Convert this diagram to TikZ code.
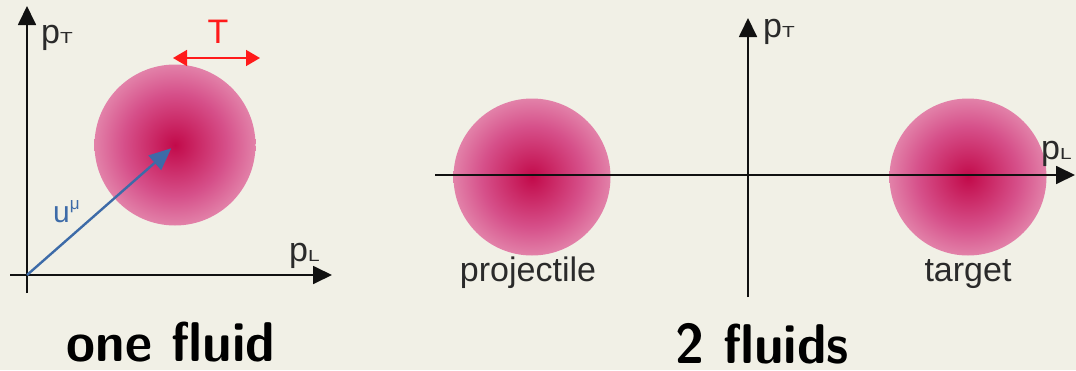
\documentclass[tikz,border=0pt]{standalone}
\usepackage{fontspec}
\setmainfont{Liberation Sans}
\usetikzlibrary{arrows.meta}
\definecolor{bg}{HTML}{F1F0E6}
\definecolor{blobin}{HTML}{C20A4A}
\definecolor{blobmid}{HTML}{D6508A}
\definecolor{blobout}{HTML}{EDADC4}
\definecolor{axiscol}{HTML}{111111}
\definecolor{labcol}{HTML}{2A2A2A}
\definecolor{ublue}{HTML}{3D6BA8}
\definecolor{tred}{HTML}{FF1A1A}
\pgfdeclareradialshading{blobshade}{\pgfpoint{0bp}{0bp}}{color(0bp)=(blobin); color(16bp)=(blobmid); color(33bp)=(blobout); color(50bp)=(blobout)}
\newcommand{\mysub}[1]{\scalebox{1.3}[1]{\fontsize{16}{16}\selectfont #1}}
\tikzset{
  blob/.style={circle, draw=none, minimum size=#1, inner sep=0pt},
  blobfill/.style={shading=blobshade, draw=none},
  axis/.style={draw=axiscol, line width=1.8pt, -{Triangle[length=19pt,width=18pt]}},
  lab/.style={text=labcol, font=\fontsize{34}{36}\selectfont, inner sep=0pt},
  title/.style={text=black, font=\sffamily\bfseries\fontsize{56}{58}\selectfont, inner sep=0pt, xscale=0.94},
  uarrow/.style={draw=ublue, line width=2.4pt, -{Triangle[length=22pt,width=19pt]}},
  tarrow/.style={draw=tred, line width=1.6pt, {Triangle[length=14pt,width=16pt]}-{Triangle[length=14pt,width=16pt]}},
}
\begin{document}
\begin{tikzpicture}[x=1pt,y=-1pt]
\fill[bg] (0,0) rectangle (1076,370);
\useasboundingbox (0,0) rectangle (1076,370);
% ---------- one fluid ----------
\node[blob=161pt] (c1) at (175,145) {};
\path[blobfill] (c1.center) circle[radius=80.5pt];
\coordinate (o1) at (27,275);
\coordinate (v1a) at (27,293);
\coordinate (v1b) at (27,6);
\coordinate (h1a) at (10,275);
\coordinate (h1b) at (332,275);
\draw[axis] (v1a) -- (v1b);
\draw[axis] (h1a) -- (h1b);
\draw[uarrow, shorten >=5pt] (o1) -- (c1.center);
\coordinate (ta) at (173,58);
\coordinate (tb) at (260,58);
\draw[tarrow] (ta) -- (tb);
\node[lab, text=tred, anchor=base] (tlab) at (218,43) {T};
\node[lab, anchor=base west] (pt1) at (41,43) {p\mysub{T}};
\node[lab, anchor=base west] (pl1) at (289,261) {p\mysub{L}};
\node[text=ublue, inner sep=0pt, anchor=base west, font=\fontsize{30}{32}\selectfont] (ulab) at (53,222) {u\raisebox{13pt}{\fontsize{17}{17}\selectfont μ}};
\node[title, anchor=base] (t1) at (171,361) {one fluid};
% ---------- 2 fluids ----------
\node[blob=157pt] (proj) at (532,177) {};
\node[blob=157pt] (targ) at (968,177) {};
\path[blobfill] (proj.center) circle[radius=78.5pt];
\path[blobfill] (targ.center) circle[radius=78.5pt];
\coordinate (h2a) at (435,175);
\coordinate (h2b) at (1075,175);
\coordinate (v2a) at (748,297);
\coordinate (v2b) at (748,18);
\draw[axis] (h2a) -- (h2b);
\draw[axis] (v2a) -- (v2b);
\node[lab, anchor=base west] (pt2) at (763,37) {p\mysub{T}};
\node[lab, anchor=base west] (pl2) at (1041,159) {p\mysub{L}};
\node[lab, anchor=base] (projlab) at (528,281) {projectile};
\node[lab, anchor=base] (targlab) at (968,281) {target};
\node[title, anchor=base] (t2) at (762,363) {2 fluids};
\end{tikzpicture}
\end{document}
